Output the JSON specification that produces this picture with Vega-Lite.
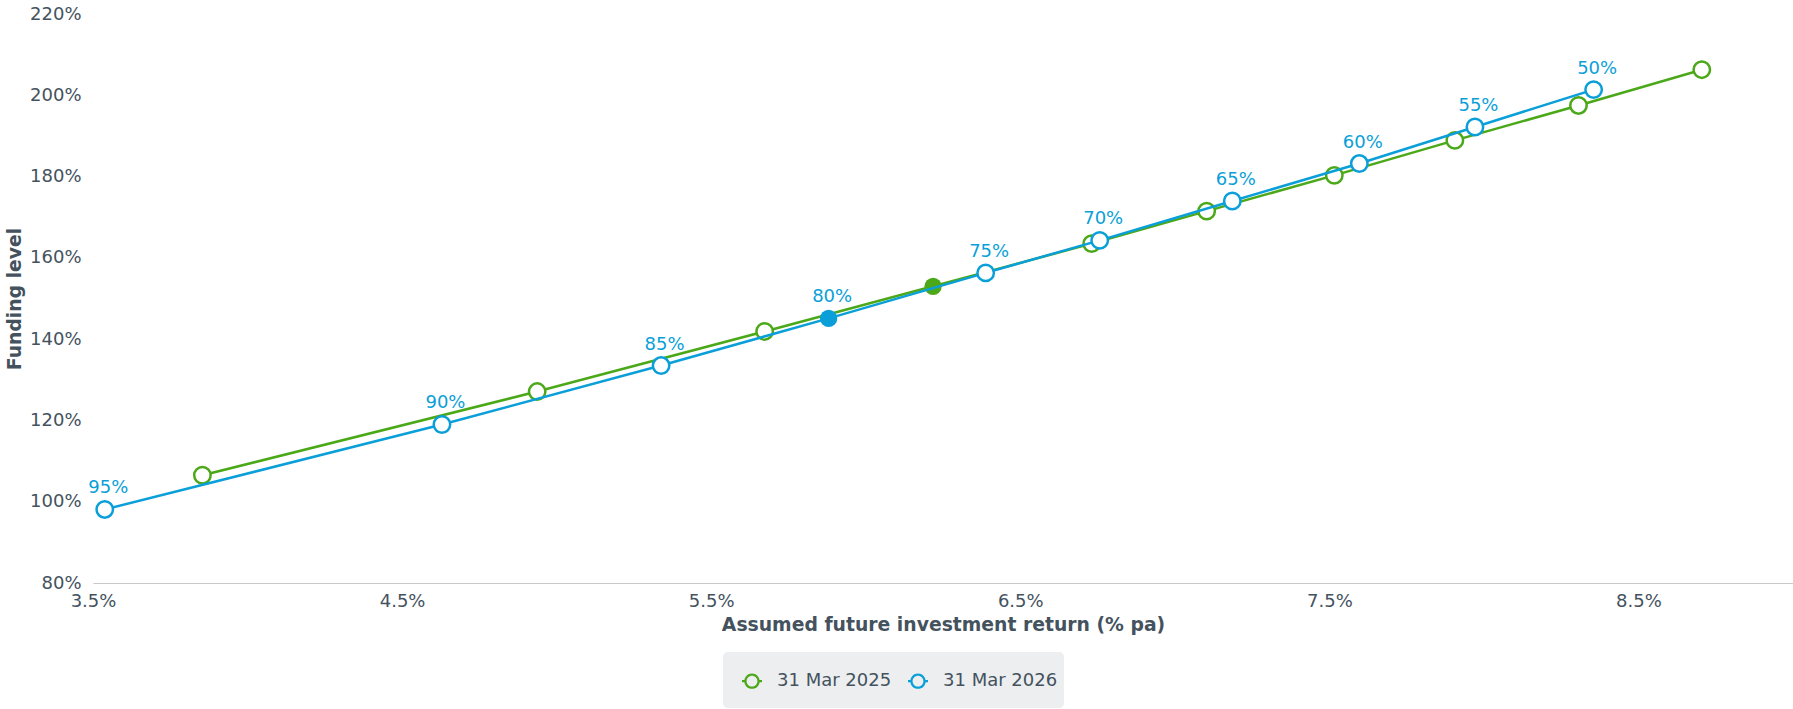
{
  "$schema": "https://vega.github.io/schema/vega-lite/v6.json",
  "width": 1700,
  "height": 569,
  "autosize": {"type": "none"},
  "padding": {"left": 93, "top": 14, "right": 0, "bottom": 126},
  "background": "white",
  "config": {"view": {"stroke": null}, "font": "DejaVu Sans"},
  "data": {
    "values": [
      {"series": "31 Mar 2025", "ret": 3.854, "level": 106.5, "label": "", "filled": false},
      {"series": "31 Mar 2025", "ret": 4.937, "level": 127.1, "label": "", "filled": false},
      {"series": "31 Mar 2025", "ret": 5.673, "level": 141.9, "label": "", "filled": false},
      {"series": "31 Mar 2025", "ret": 6.218, "level": 153.0, "label": "", "filled": true},
      {"series": "31 Mar 2025", "ret": 6.731, "level": 163.5, "label": "", "filled": false},
      {"series": "31 Mar 2025", "ret": 7.103, "level": 171.5, "label": "", "filled": false},
      {"series": "31 Mar 2025", "ret": 7.516, "level": 180.3, "label": "", "filled": false},
      {"series": "31 Mar 2025", "ret": 7.906, "level": 188.9, "label": "", "filled": false},
      {"series": "31 Mar 2025", "ret": 8.306, "level": 197.5, "label": "", "filled": false},
      {"series": "31 Mar 2025", "ret": 8.705, "level": 206.3, "label": "", "filled": false},
      {"series": "31 Mar 2026", "ret": 3.538, "level": 98.1, "label": "95%", "filled": false},
      {"series": "31 Mar 2026", "ret": 4.629, "level": 119.0, "label": "90%", "filled": false},
      {"series": "31 Mar 2026", "ret": 5.338, "level": 133.5, "label": "85%", "filled": false},
      {"series": "31 Mar 2026", "ret": 5.880, "level": 145.1, "label": "80%", "filled": true},
      {"series": "31 Mar 2026", "ret": 6.388, "level": 156.3, "label": "75%", "filled": false},
      {"series": "31 Mar 2026", "ret": 6.757, "level": 164.3, "label": "70%", "filled": false},
      {"series": "31 Mar 2026", "ret": 7.186, "level": 174.0, "label": "65%", "filled": false},
      {"series": "31 Mar 2026", "ret": 7.597, "level": 183.2, "label": "60%", "filled": false},
      {"series": "31 Mar 2026", "ret": 7.971, "level": 192.2, "label": "55%", "filled": false},
      {"series": "31 Mar 2026", "ret": 8.355, "level": 201.4, "label": "50%", "filled": false}
    ]
  },
  "encoding": {
    "x": {
      "field": "ret", "type": "quantitative",
      "scale": {"domain": [3.5, 9], "nice": false, "zero": false},
      "axis": {
        "values": [3.5, 4.5, 5.5, 6.5, 7.5, 8.5],
        "labelExpr": "format(datum.value, '.1f') + '%'",
        "grid": false, "ticks": false, "tickSize": 0,
        "domainColor": "#C8C8C8", "domainWidth": 1,
        "labelFontSize": 18, "labelColor": "#44525E", "labelPadding": 9, "labelFlush": false,
        "title": "Assumed future investment return (% pa)",
        "titleFontSize": 18.8, "titleFontWeight": "bold", "titleColor": "#44525E", "titlePadding": 5
      }
    },
    "y": {
      "field": "level", "type": "quantitative",
      "scale": {"domain": [80, 220], "nice": false, "zero": false},
      "axis": {
        "values": [80, 100, 120, 140, 160, 180, 200, 220],
        "labelExpr": "datum.value + '%'",
        "grid": false, "ticks": false, "tickSize": 0, "domain": false,
        "labelFontSize": 18, "labelColor": "#44525E", "labelPadding": 12,
        "title": "Funding level",
        "titleFontSize": 18.8, "titleFontWeight": "bold", "titleColor": "#44525E",
        "titleX": -79, "titleY": 284.5, "titleAngle": 270, "titleBaseline": "middle", "titleAlign": "center"
      }
    }
  },
  "layer": [
    {
      "transform": [{"filter": "datum.series == '31 Mar 2025'"}],
      "mark": {"type": "line", "strokeWidth": 2.5},
      "encoding": {
        "color": {
          "field": "series", "type": "nominal",
          "scale": {"domain": ["31 Mar 2025", "31 Mar 2026"], "range": ["#4BA819", "#0A9FD8"]},
          "legend": {
            "orient": "none", "legendX": 630, "legendY": 638,
            "direction": "horizontal", "title": null,
            "fillColor": "#ECEEF0", "cornerRadius": 5, "padding": 6,
            "labelFontSize": 18, "labelColor": "#44525E", "labelOffset": 2, "columnPadding": 3,
            "symbolType": "M0,-1.1L0,-1.1M0,0.9L0,0.9M-0.335,0A0.335,0.335,0,1,1,0.335,0A0.335,0.335,0,1,1,-0.335,0ZM-0.235,0A0.235,0.235,0,1,0,0.235,0A0.235,0.235,0,1,0,-0.235,0ZM-0.435,-0.05L-0.32,-0.05L-0.32,0.05L-0.435,0.05ZM0.32,-0.05L0.435,-0.05L0.435,0.05L0.32,0.05Z",
            "symbolSize": 2116, "symbolStrokeWidth": 0,
            "encode": {
              "symbols": {
                "update": {
                  "strokeWidth": {"value": 0}
                }
              }
            }
          }
        }
      }
    },
    {
      "transform": [{"filter": "datum.series == '31 Mar 2025' && !datum.filled"}],
      "mark": {"type": "point", "shape": "circle", "filled": false, "fill": "white", "fillOpacity": 1, "opacity": 1, "size": 270, "strokeWidth": 2.5},
      "encoding": {"color": {"field": "series", "type": "nominal"}}
    },
    {
      "transform": [{"filter": "datum.series == '31 Mar 2025' && datum.filled"}],
      "mark": {"type": "point", "shape": "circle", "filled": true, "color": "#4BA819", "opacity": 1, "size": 300, "strokeWidth": 0}
    },
    {
      "transform": [{"filter": "datum.series == '31 Mar 2026'"}],
      "mark": {"type": "line", "strokeWidth": 2.5},
      "encoding": {"color": {"field": "series", "type": "nominal"}}
    },
    {
      "transform": [{"filter": "datum.series == '31 Mar 2026' && !datum.filled"}],
      "mark": {"type": "point", "shape": "circle", "filled": false, "fill": "white", "fillOpacity": 1, "opacity": 1, "size": 270, "strokeWidth": 2.5},
      "encoding": {"color": {"field": "series", "type": "nominal"}}
    },
    {
      "transform": [{"filter": "datum.series == '31 Mar 2026' && datum.filled"}],
      "mark": {"type": "point", "shape": "circle", "filled": true, "color": "#0A9FD8", "opacity": 1, "size": 300, "strokeWidth": 0}
    },
    {
      "transform": [{"filter": "datum.label != ''"}],
      "mark": {"type": "text", "fontSize": 18, "align": "center", "baseline": "alphabetic", "dx": 3.5, "dy": -16},
      "encoding": {
        "text": {"field": "label"},
        "color": {"field": "series", "type": "nominal"}
      }
    }
  ]
}
